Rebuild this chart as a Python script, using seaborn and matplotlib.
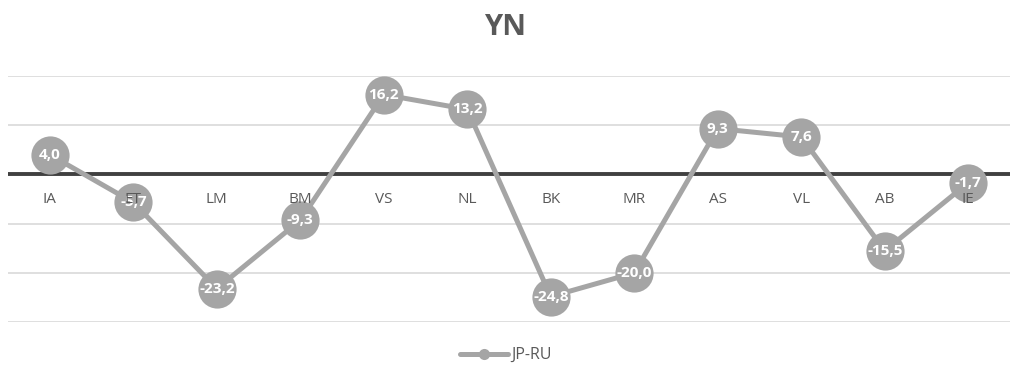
import matplotlib
matplotlib.use("Agg")
import matplotlib.pyplot as plt
import seaborn as sns
import pandas as pd

categories = ["IA", "ET", "LM", "BM", "VS", "NL", "BK", "MR", "AS", "VL", "AB", "IE"]
values = [4.0, -5.7, -23.2, -9.3, 16.2, 13.2, -24.8, -20.0, 9.3, 7.6, -15.5, -1.7]
series_name = "JP-RU"
title = "YN"

sns.set_theme(style="white")
plt.rcParams['font.family'] = ['Open Sans', 'DejaVu Sans']

df = pd.DataFrame({"x": range(len(categories)), "y": values, "s": series_name})

fig = plt.figure(figsize=(10.11, 3.72), dpi=100)
ax = fig.add_axes([0.008, 0.134, 0.991, 0.662])

for g in [20, 10, -10, -20, -30]:
    ax.axhline(g, color="#D9D9D9", lw=1.2, zorder=0)
ax.axhline(0, color="#404040", lw=2.8, zorder=1)

sns.lineplot(data=df, x="x", y="y", hue="s", palette=["#A5A5A5"], marker="o",
             markersize=27.5, linewidth=3.6, markeredgewidth=0, ax=ax, zorder=3,
             legend=False)

for i, v in enumerate(values):
    ax.text(i, v, f"{v:.1f}".replace(".", ","), ha="center", va="center",
            color="white", fontsize=11, fontweight="bold", zorder=5)
    ax.annotate(categories[i], (i, 0), xytext=(0, -18), textcoords="offset points",
                ha="center", va="center", fontsize=11, color="#595959", zorder=6)

ax.set_xlim(-0.5, len(categories) - 0.5)
ax.set_ylim(-30, 20)
ax.set_xticks([])
ax.set_yticks([])
ax.set_xlabel("")
ax.set_ylabel("")
for s in ax.spines.values():
    s.set_visible(False)

fig.text(0.5, 0.925, title, ha="center", va="center", fontsize=21,
         fontweight="bold", color="#595959")

from matplotlib.lines import Line2D
h = Line2D([0], [0], color="#A5A5A5", lw=3.6, marker="o", markersize=8,
           markeredgewidth=0)
fig.legend([h], [series_name], loc="center", bbox_to_anchor=(0.5, 0.045),
           frameon=False, fontsize=11.5, labelcolor="#595959", handlelength=3,
           handletextpad=0.2)

fig.savefig("out.png", dpi=100)
